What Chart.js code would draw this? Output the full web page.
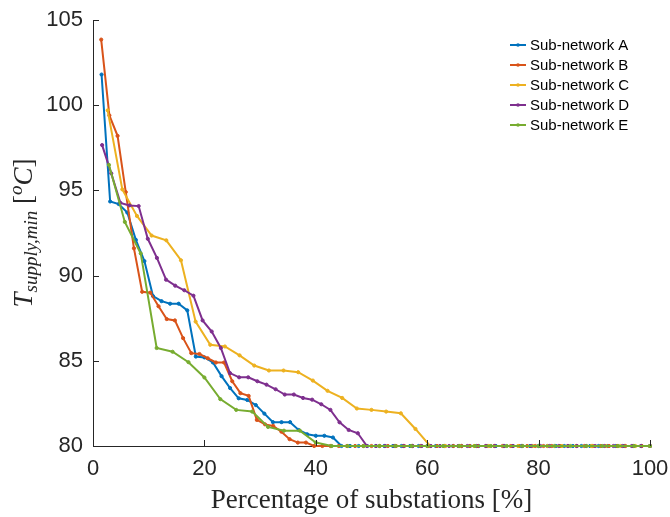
<!DOCTYPE html>
<html><head><meta charset="utf-8">
<script src="https://cdn.jsdelivr.net/npm/chart.js@4.4.1/dist/chart.umd.min.js"></script>
<style>html,body{margin:0;padding:0;background:#fff}#wrap{width:670px;height:517px}</style>
</head><body><div id="wrap"><canvas id="c" width="670" height="517"></canvas></div>
<script>
const seriesNames = ['Sub-network A','Sub-network B','Sub-network C','Sub-network D','Sub-network E'];
const subA = [101.8,94.35,94.2,93.7,92.1,90.85,88.8,88.5,88.35,88.35,87.96,85.25,85.2,84.9,84.1,83.4,82.8,82.7,82.4,81.9,81.4,81.4,81.4,80.94,80.69,80.6,80.6,80.5,80.0,
  80,80,80,80,80,80,80,80,80,80,80,80,
  80,80,80,80,80,80,80,80,80,80,80,80,
  80,80,80,80,80,80,80,80,80,80,80,80];
const subB = [103.85,99.4,98.2,94.9,91.6,89.05,89.0,88.2,87.45,87.37,86.33,85.45,85.4,85.15,84.9,84.9,83.8,83.1,82.94,81.53,81.27,81.18,80.84,80.4,80.2,80.2,80.0,
  80,80,80,80,80,80,80,80,80,80,80,80,
  80,80,80,80,80,80,80,80,80,80,80,80,
  80,80,80,80,80,80,80,80,80,80,80,80,
  80,80,80,80,80];
const subC = [99.7,95.06,93.5,92.35,92.07,90.9,87.3,85.94,85.84,85.32,84.72,84.43,84.43,84.33,83.84,83.24,82.82,82.2,82.12,82.02,81.92,81.0,80.0,
  80,80,80,80,80,80,80,80,80,80,80,80,
  80,80,80];
const subD = [97.66,96.0,94.27,94.12,94.08,92.16,91.04,89.76,89.41,89.14,88.82,87.37,86.72,85.75,84.28,84.03,84.03,83.8,83.6,83.33,83.02,83.02,82.82,82.72,82.45,82.12,81.39,80.94,80.75,80.0,
  80,80,80,80,80,80,80,80,80,80,80,80,
  80,80,80,80,80,80,80,80,80,80,80,80,
  80,80,80,80,80,80,80];
const subE = [96.5,93.15,91.3,85.75,85.53,84.92,84.02,82.75,82.12,82.02,81.12,80.9,80.9,80.2,80.0,
  80,80,80,80,80,80,80,80,80,80,80,80,
  80,80,80,80,80,80,80,80];
const xTicks = [0,20,40,60,80,100];
const yTicks = [80,85,90,95,100,105];
const colors = ['#0072BD','#D95319','#EDB120','#7E2F8E','#77AC30'];

const allSeries = [subA, subB, subC, subD, subE];
function toPoints(arr){ return arr.map((v,i)=>({x:(i+1)*100/arr.length, y:v})); }

const datasets = allSeries.map((arr,k)=>({
  label: seriesNames[k],
  data: toPoints(arr),
  borderColor: colors[k],
  backgroundColor: colors[k],
  borderWidth: 2,
  pointRadius: 1.6,
  pointBorderWidth: 1,
  pointBorderColor: colors[k],
  pointBackgroundColor: colors[k],
  tension: 0,
  clip: 6,
  order: 4-k
}));

const axisColor = '#262626';
const decor = {
  id: 'decor',
  afterDraw(chart){
    const ctx = chart.ctx, xs = chart.scales.x, ys = chart.scales.y, ca = chart.chartArea;
    ctx.save();
    ctx.strokeStyle = axisColor; ctx.lineWidth = 1;
    ctx.beginPath();
    yTicks.forEach(v=>{ const py = Math.round(ys.getPixelForValue(v))+0.5; ctx.moveTo(ca.left, py); ctx.lineTo(ca.left+6, py); });
    xTicks.forEach(v=>{ const px = Math.round(xs.getPixelForValue(v))+0.5; ctx.moveTo(px, ca.bottom); ctx.lineTo(px, ca.bottom-6); });
    ctx.stroke();
    // x title
    ctx.fillStyle = '#262626';
    ctx.font = '27px "Liberation Serif"';
    ctx.textAlign = 'center'; ctx.textBaseline = 'alphabetic';
    ctx.fillText('Percentage of substations [%]', (ca.left+ca.right)/2, 508);
    // y title (rich text)
    const parts = [
      {t:'T', f:'italic 27px "Liberation Serif"', dy:0},
      {t:'supply,min', f:'italic 19px "Liberation Serif"', dy:5},
      {t:' [', f:'27px "Liberation Serif"', dy:0},
      {t:'o', f:'italic 19px "Liberation Serif"', dy:-10},
      {t:'C', f:'italic 27px "Liberation Serif"', dy:0},
      {t:']', f:'27px "Liberation Serif"', dy:0}
    ];
    let total = 0;
    parts.forEach(p=>{ ctx.font = p.f; p.w = ctx.measureText(p.t).width; total += p.w; });
    ctx.translate(32, (ca.top+ca.bottom)/2);
    ctx.rotate(-Math.PI/2);
    ctx.textAlign = 'left';
    let cx = -total/2;
    parts.forEach(p=>{ ctx.font = p.f; ctx.fillText(p.t, cx, p.dy); cx += p.w; });
    ctx.restore();
    // legend
    ctx.save();
    ctx.font = '15px "Liberation Sans"';
    ctx.textAlign = 'left'; ctx.textBaseline = 'middle';
    seriesNames.forEach((name,k)=>{
      const y = 45 + k*20;
      ctx.strokeStyle = colors[k]; ctx.lineWidth = 2;
      ctx.beginPath(); ctx.moveTo(510, y); ctx.lineTo(526, y); ctx.stroke();
      ctx.fillStyle = colors[k];
      ctx.beginPath(); ctx.arc(518, y, 1.8, 0, Math.PI*2); ctx.fill();
      ctx.fillStyle = '#000';
      ctx.fillText(name, 530, y+0.5);
    });
    ctx.restore();
  }
};

new Chart(document.getElementById('c'), {
  type: 'line',
  data: { datasets },
  options: {
    responsive: false,
    animation: false,
    layout: { padding: { top: 20, right: 20, left: 0, bottom: 0 } },
    plugins: { legend: { display: false }, tooltip: { enabled: false } },
    scales: {
      x: {
        type: 'linear', min: 0, max: 100,
        afterFit(s){ s.height = 71; s.paddingLeft = 0; s.paddingRight = 0; },
        afterBuildTicks(s){ s.ticks = xTicks.map(v=>({value:v})); },
        grid: { display: false, drawTicks: false },
        border: { display: true, color: axisColor, width: 1 },
        ticks: { padding: 10, color: axisColor, font: { family: '"Liberation Sans"', size: 22 }, maxRotation: 0 }
      },
      y: {
        type: 'linear', min: 80, max: 105,
        afterFit(s){ s.width = 93; s.paddingTop = 0; s.paddingBottom = 0; },
        afterBuildTicks(s){ s.ticks = yTicks.map(v=>({value:v})); },
        grid: { display: false, drawTicks: false },
        border: { display: true, color: axisColor, width: 1 },
        ticks: { padding: 10, color: axisColor, font: { family: '"Liberation Sans"', size: 22 } }
      }
    }
  },
  plugins: [decor]
});
</script></body></html>
